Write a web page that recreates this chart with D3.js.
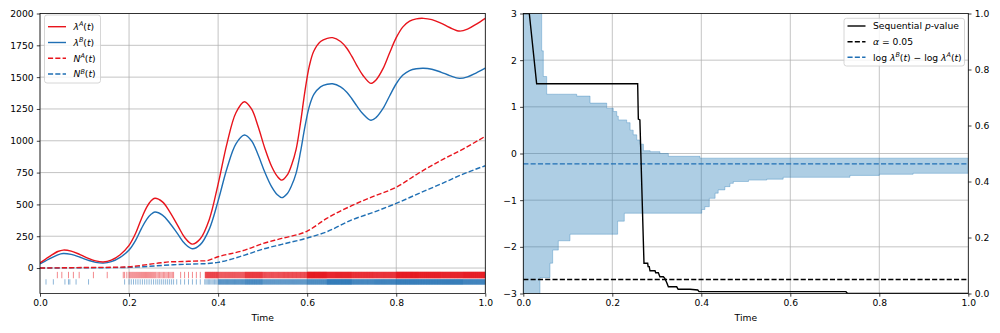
<!DOCTYPE html>
<html><head><meta charset="utf-8">
<script src="https://cdn.jsdelivr.net/npm/d3@7"></script>
<style>
html,body{margin:0;padding:0;background:#fff;}
svg{display:block;font-family:"DejaVu Sans",sans-serif;}
</style></head>
<body><svg id="chart" width="1000" height="333"></svg>
<script>
// ---------------- data ----------------
const lamT = [0, 0.02, 0.04, 0.052, 0.07, 0.09, 0.11, 0.125, 0.142, 0.16, 0.18, 0.2, 0.215, 0.228, 0.24, 0.25, 0.258, 0.275, 0.29, 0.31, 0.325, 0.342, 0.36, 0.38, 0.4, 0.42, 0.44, 0.459, 0.475, 0.49, 0.505, 0.52, 0.533, 0.543, 0.555, 0.565, 0.575, 0.585, 0.595, 0.605, 0.615, 0.63, 0.645, 0.657, 0.675, 0.689, 0.70, 0.711, 0.725, 0.743, 0.755, 0.77, 0.785, 0.8, 0.815, 0.83, 0.845, 0.861, 0.88, 0.9, 0.92, 0.942, 0.96, 0.98, 1.0];
const lamA = [40, 88, 130, 141, 133, 106, 74, 56, 48, 62, 105, 178, 275, 390, 480, 530, 548, 520, 450, 330, 240, 188, 230, 380, 660, 980, 1220, 1307, 1250, 1110, 940, 800, 720, 691, 730, 810, 930, 1140, 1390, 1590, 1705, 1780, 1805, 1810, 1780, 1727, 1665, 1595, 1515, 1451, 1480, 1565, 1690, 1810, 1895, 1940, 1958, 1962, 1952, 1925, 1890, 1862, 1877, 1917, 1962];
const lamB = [32, 70, 104, 114, 107, 85, 59, 45, 39, 50, 84, 142, 220, 312, 384, 424, 440, 416, 360, 264, 192, 152, 184, 304, 528, 784, 976, 1045, 1000, 888, 752, 640, 576, 553, 584, 648, 744, 912, 1112, 1272, 1364, 1424, 1444, 1448, 1424, 1382, 1332, 1276, 1212, 1161, 1184, 1252, 1352, 1448, 1516, 1552, 1566, 1570, 1562, 1540, 1512, 1490, 1502, 1534, 1570];

const countT = [0, 0.1, 0.19, 0.2, 0.26, 0.30, 0.307, 0.36, 0.37, 0.4, 0.46, 0.5, 0.543, 0.6, 0.644, 0.7, 0.75, 0.8, 0.85, 0.9, 0.95, 1.0];
const countA = [0, 4, 8, 10, 36, 50, 50, 56, 56, 89, 141, 192, 233, 290, 390, 490, 565, 635, 745, 845, 935, 1035];
const countB = [0, 2, 4, 5, 17, 26, 27, 33, 34, 45, 102, 148, 186, 236, 285, 378, 440, 508, 585, 660, 738, 804];

// sparse early events read individually
const earlyEventsA = [0.039, 0.049, 0.064, 0.075, 0.088, 0.12, 0.151, 0.187];
const earlyEventsB = [0.0135, 0.030, 0.056, 0.064, 0.067, 0.081, 0.109];
const denseFrom = 0.19;

// right panel: sequential p-value (right axis)
const pT = [0, 0.0135, 0.030, 0.257, 0.2585, 0.262, 0.2712, 0.2795, 0.2805, 0.283, 0.2847, 0.296, 0.2975, 0.3034, 0.307, 0.3147, 0.318, 0.322, 0.326, 0.3447, 0.348, 0.3746, 0.392, 0.395, 0.725, 0.728, 0.83, 1.0];
const pVal = [1, 1, 0.749, 0.749, 0.623, 0.62, 0.108, 0.108, 0.096, 0.096, 0.081, 0.081, 0.074, 0.074, 0.06, 0.06, 0.054, 0.04, 0.024, 0.024, 0.015, 0.015, 0.0125, 0.0066, 0.0066, 0.0015, 0.0005, 0.0002];

// confidence band of log ratio (step after)
const bandT  = [0, 0.0375, 0.0413, 0.045, 0.0526, 0.06, 0.066, 0.0787, 0.105, 0.12, 0.15, 0.1874, 0.2022, 0.21, 0.212, 0.2135, 0.227, 0.2323, 0.24, 0.247, 0.255, 0.262, 0.27, 0.285, 0.307, 0.326, 0.397, 0.401, 0.408, 0.418, 0.431, 0.438, 0.453, 0.4645, 0.472, 0.506, 0.547, 0.584, 0.734, 0.80, 0.876, 1.0];
const bandLo = [-3.5, -2.66, -2.66, -2.66, -2.66, -2.35, -2.07, -1.87, -1.73, -1.73, -1.73, -1.73, -1.73, -1.73, -1.45, -1.45, -1.28, -1.28, -1.28, -1.28, -1.28, -1.28, -1.28, -1.28, -1.28, -1.28, -1.28, -1.20, -1.14, -0.96, -0.85, -0.78, -0.71, -0.64, -0.60, -0.57, -0.55, -0.51, -0.47, -0.445, -0.424, -0.424];
const bandHi = [3.5, 3.5, 2.2, 1.65, 1.27, 1.27, 1.27, 1.27, 1.27, 1.23, 1.08, 0.97, 0.90, 0.80, 0.80, 0.72, 0.72, 0.66, 0.50, 0.40, 0.29, 0.20, 0.06, 0.04, 0.00, -0.06, -0.10, -0.10, -0.10, -0.10, -0.10, -0.10, -0.10, -0.10, -0.10, -0.10, -0.10, -0.10, -0.10, -0.10, -0.10, -0.10];

const logRatio = -0.223;
const alphaLevel = 0.05;

const xTicks = [0, 0.2, 0.4, 0.6, 0.8, 1.0];
const yTicksLeft = [0, 250, 500, 750, 1000, 1250, 1500, 1750, 2000];
const yTicksRightPanel = [-3, -2, -1, 0, 1, 2, 3];
const yTicksPval = [0, 0.2, 0.4, 0.6, 0.8, 1.0];

// ---------------- drawing ----------------
(function () {
const RED = "#e8141c", BLUE = "#1f6fb4";
const FS = 9.2;
const svg = d3.select("#chart");

const plotTop = 13.5, plotBottom = 293.5;
const x1 = d3.scaleLinear().domain([0, 1]).range([40, 485.3]);
const y1 = d3.scaleLinear().domain([-200, 2000]).range([plotBottom, plotTop]);
const x2 = d3.scaleLinear().domain([0, 1]).range([523.3, 968.3]);
const y2 = d3.scaleLinear().domain([-3, 3]).range([plotBottom, plotTop]);
const y2r = d3.scaleLinear().domain([0, 1]).range([plotBottom, plotTop]);

const defs = svg.append("defs");
function clip(id, x) {
  defs.append("clipPath").attr("id", id).append("rect")
    .attr("x", x.range()[0]).attr("y", plotTop)
    .attr("width", x.range()[1] - x.range()[0]).attr("height", plotBottom - plotTop);
}
clip("c1", x1); clip("c2", x2);

function grid(g, x, y, yt) {
  const gg = g.append("g").attr("stroke", "#b0b0b0").attr("stroke-width", 0.75);
  xTicks.forEach(t => gg.append("line").attr("x1", x(t)).attr("x2", x(t)).attr("y1", plotTop).attr("y2", plotBottom));
  yt.forEach(t => gg.append("line").attr("x1", x.range()[0]).attr("x2", x.range()[1]).attr("y1", y(t)).attr("y2", y(t)));
}
function styleAxis(g) {
  g.select(".domain").remove();
  g.selectAll(".tick line").attr("stroke", "#000").attr("stroke-width", 0.75);
  g.selectAll(".tick text").attr("font-size", FS).attr("font-family", "DejaVu Sans").attr("fill", "#000");
}
function frame(x) {
  svg.append("rect").attr("x", x.range()[0]).attr("y", plotTop)
    .attr("width", x.range()[1] - x.range()[0]).attr("height", plotBottom - plotTop)
    .attr("fill", "none").attr("stroke", "#000").attr("stroke-width", 0.75);
}
const fmtMinus = d => (d < 0 ? "\u2212" + Math.abs(d) : "" + d);

// ===== Panel 1 =====
const p1 = svg.append("g");
grid(p1, x1, y1, yTicksLeft);
const d1 = p1.append("g").attr("clip-path", "url(#c1)");

function eventsFromCounts(T, N, t0) {
  const ev = [];
  const total = N[N.length - 1];
  for (let k = 1; k <= total; k++) {
    let i = 0;
    while (i < N.length - 2 && N[i + 1] < k) i++;
    const t = T[i] + (k - N[i]) / (N[i + 1] - N[i]) * (T[i + 1] - T[i]);
    if (t >= t0) ev.push(t);
  }
  return ev;
}
const evA = earlyEventsA.concat(eventsFromCounts(countT, countA, denseFrom));
const evB = earlyEventsB.concat(eventsFromCounts(countT, countB, denseFrom));
d1.append("g").selectAll("line").data(evA).join("line")
  .attr("x1", d => x1(d)).attr("x2", d => x1(d)).attr("y1", y1(-30)).attr("y2", y1(-80))
  .attr("stroke", RED).attr("stroke-width", 1).attr("stroke-opacity", 0.5);
d1.append("g").selectAll("line").data(evB).join("line")
  .attr("x1", d => x1(d)).attr("x2", d => x1(d)).attr("y1", y1(-88)).attr("y2", y1(-130))
  .attr("stroke", BLUE).attr("stroke-width", 1).attr("stroke-opacity", 0.5);

const lineLam = vals => d3.line().x((d, i) => x1(lamT[i])).y(d => y1(d)).curve(d3.curveCatmullRom.alpha(0.5))(vals);
const lineCnt = vals => d3.line().x((d, i) => x1(countT[i])).y(d => y1(d)).curve(d3.curveMonotoneX)(vals);
d1.append("path").attr("d", lineCnt(countB)).attr("fill", "none").attr("stroke", BLUE).attr("stroke-width", 1.4).attr("stroke-dasharray", "5.1,2.2");
d1.append("path").attr("d", lineCnt(countA)).attr("fill", "none").attr("stroke", RED).attr("stroke-width", 1.4).attr("stroke-dasharray", "5.1,2.2");
d1.append("path").attr("d", lineLam(lamB)).attr("fill", "none").attr("stroke", BLUE).attr("stroke-width", 1.4);
d1.append("path").attr("d", lineLam(lamA)).attr("fill", "none").attr("stroke", RED).attr("stroke-width", 1.4);

frame(x1);
p1.append("g").attr("transform", `translate(0,${plotBottom})`)
  .call(d3.axisBottom(x1).tickValues(xTicks).tickFormat(d3.format(".1f")).tickSize(3.2).tickPadding(3.2)).call(styleAxis);
p1.append("g").attr("transform", `translate(${x1.range()[0]},0)`)
  .call(d3.axisLeft(y1).tickValues(yTicksLeft).tickFormat(d => d).tickSize(3.2).tickPadding(3.2)).call(styleAxis);
svg.append("text").attr("x", (x1.range()[0] + x1.range()[1]) / 2).attr("y", 320.5)
  .attr("text-anchor", "middle").attr("font-size", FS).text("Time");

// ===== Panel 2 =====
const p2 = svg.append("g");
grid(p2, x2, y2, yTicksRightPanel);
const d2 = p2.append("g").attr("clip-path", "url(#c2)");
const bandIdx = d3.range(bandT.length);
const area = d3.area().x(i => x2(bandT[i])).y0(i => y2(bandLo[i])).y1(i => y2(bandHi[i])).curve(d3.curveStepAfter);
d2.append("path").attr("d", area(bandIdx)).attr("fill", "#1f77b4").attr("fill-opacity", 0.36)
  .attr("stroke", "#1f77b4").attr("stroke-opacity", 0.36).attr("stroke-width", 0.9);
d2.append("line").attr("x1", x2(0)).attr("x2", x2(1)).attr("y1", y2(logRatio)).attr("y2", y2(logRatio))
  .attr("stroke", BLUE).attr("stroke-width", 1.4).attr("stroke-dasharray", "5.1,2.2");
d2.append("line").attr("x1", x2(0)).attr("x2", x2(1)).attr("y1", y2r(alphaLevel)).attr("y2", y2r(alphaLevel))
  .attr("stroke", "#000").attr("stroke-width", 1.4).attr("stroke-dasharray", "5.1,2.2");
d2.append("path").attr("d", d3.line().x((d, i) => x2(pT[i])).y(d => y2r(d))(pVal))
  .attr("fill", "none").attr("stroke", "#000").attr("stroke-width", 1.4);

frame(x2);
p2.append("g").attr("transform", `translate(0,${plotBottom})`)
  .call(d3.axisBottom(x2).tickValues(xTicks).tickFormat(d3.format(".1f")).tickSize(3.2).tickPadding(3.2)).call(styleAxis);
p2.append("g").attr("transform", `translate(${x2.range()[0]},0)`)
  .call(d3.axisLeft(y2).tickValues(yTicksRightPanel).tickFormat(fmtMinus).tickSize(3.2).tickPadding(3.2)).call(styleAxis);
p2.append("g").attr("transform", `translate(${x2.range()[1]},0)`)
  .call(d3.axisRight(y2r).tickValues(yTicksPval).tickFormat(d3.format(".1f")).tickSize(3.2).tickPadding(3.2)).call(styleAxis);
svg.append("text").attr("x", (x2.range()[0] + x2.range()[1]) / 2).attr("y", 320.5)
  .attr("text-anchor", "middle").attr("font-size", FS).text("Time");

// ===== Legends =====
function mathText(sel, parts) {
  let shift = 0;
  parts.forEach(p => {
    const ts = sel.append("tspan").text(p.t);
    if (p.i) ts.attr("font-style", "italic");
    const target = p.sup ? -3.6 : 0;
    if (target !== shift) { ts.attr("dy", target - shift); shift = target; }
    if (p.sup) ts.attr("font-size", FS * 0.7);
  });
}
function lam(sup) { return [{t: "\u03bb", i: true}, {t: sup, i: true, sup: true}, {t: "(", i: false}, {t: "t", i: true}, {t: ")", i: false}]; }
function cnt(sup) { return [{t: "N", i: true}, {t: sup, i: true, sup: true}, {t: "(", i: false}, {t: "t", i: true}, {t: ")", i: false}]; }

function legend(x0, y0, w, h, rows, rowY, lineX0, lineX1, textX) {
  const g = svg.append("g");
  g.append("rect").attr("x", x0).attr("y", y0).attr("width", w).attr("height", h).attr("rx", 2.5)
    .attr("fill", "#fff").attr("fill-opacity", 0.8).attr("stroke", "#cccccc").attr("stroke-width", 0.8);
  rows.forEach((r, i) => {
    const y = rowY[i];
    g.append("line").attr("x1", lineX0).attr("x2", lineX1).attr("y1", y).attr("y2", y)
      .attr("stroke", r.color).attr("stroke-width", 1.4).attr("stroke-dasharray", r.dash ? "5.1,2.2" : null);
    const t = g.append("text").attr("x", textX).attr("y", y + 3.3).attr("font-size", FS);
    mathText(t, r.parts);
  });
}
legend(44.5, 15, 56, 68,
  [{color: RED, parts: lam("A")}, {color: BLUE, parts: lam("B")},
   {color: RED, dash: true, parts: cnt("A")}, {color: BLUE, dash: true, parts: cnt("B")}],
  [26.7, 42.5, 58.3, 74], 48, 66, 73.5);
legend(844, 18.3, 120.5, 47.7,
  [{color: "#000", parts: [{t: "Sequential "}, {t: "p", i: true}, {t: "-value"}]},
   {color: "#000", dash: true, parts: [{t: "\u03b1", i: true}, {t: " = 0.05"}]},
   {color: BLUE, dash: true, parts: [{t: "log "}, {t: "\u03bb", i: true}, {t: "B", i: true, sup: true}, {t: "("}, {t: "t", i: true}, {t: ")"}, {t: " \u2212 log "}, {t: "\u03bb", i: true}, {t: "A", i: true, sup: true}, {t: "("}, {t: "t", i: true}, {t: ")"}]}],
  [26, 41.7, 57.3], 847.5, 865.5, 873);
})();
</script></body></html>
